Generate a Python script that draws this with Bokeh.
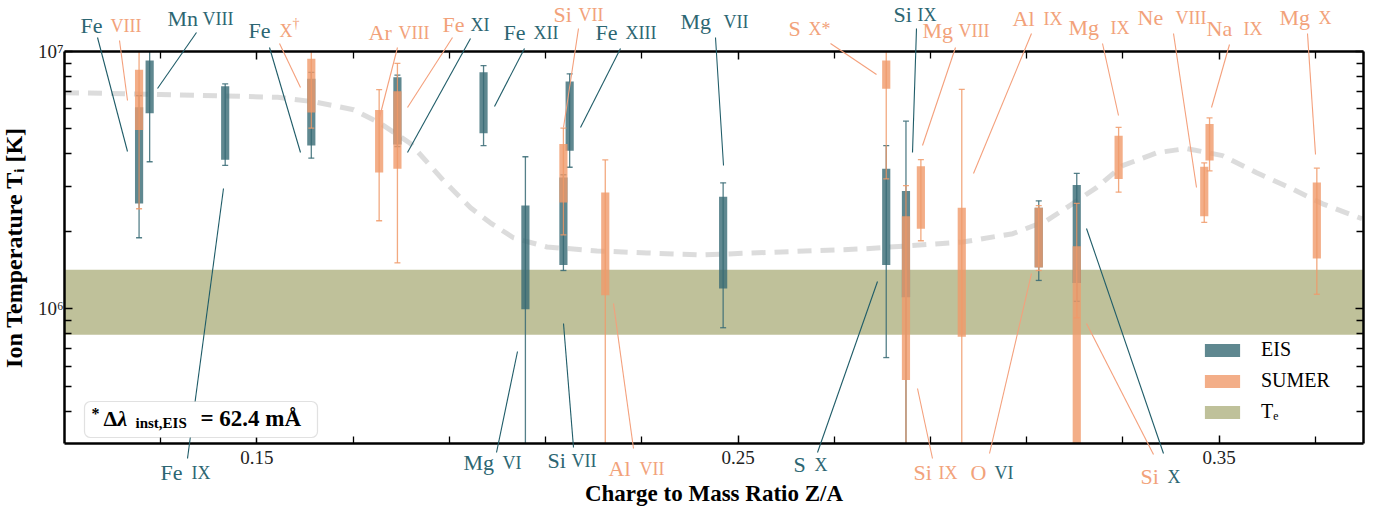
import math
from bokeh.plotting import figure
from bokeh.models import (Range1d, FixedTicker, LinearAxis, LogAxis, CustomJSTickFormatter,
                          Label, Arrow, BoxAnnotation, Legend, LegendItem)
from bokeh.embed import file_html
from bokeh.resources import INLINE

# ---------------- data ----------------
# EIS measurements: charge-to-mass ratio, box range, error-bar range (K)
eis_ion = ["Fe VIII", "Mn VIII", "Fe IX", "Fe X", "Fe XI", "Fe XII", "Mg VI", "Si VII",
           "Fe XIII", "Mg VII", "S X", "Si IX", "O VI", "Si X"]
eis_za = [0.1255, 0.1277, 0.1434, 0.1613, 0.1792, 0.1971, 0.2058, 0.2137,
          0.2150, 0.2469, 0.2808, 0.2849, 0.3125, 0.3204]
eis_box_lo = [2.57e6, 5.75e6, 3.80e6, 4.31e6, 4.35e6, 4.81e6, 9.97e5, 1.48e6,
              4.12e6, 1.20e6, 1.48e6, 1.11e6, 1.45e6, 1.26e6]
eis_box_hi = [6.07e6, 9.23e6, 7.33e6, 7.83e6, 7.94e6, 8.30e6, 2.52e6, 3.24e6,
              7.64e6, 2.73e6, 3.50e6, 2.87e6, 2.47e6, 3.03e6]
eis_err_lo = [1.89e6, 3.73e6, 3.61e6, 3.85e6, 4.27e6, 4.31e6, 2.0e5, 1.41e6,
              3.55e6, 8.45e5, 6.47e5, 2.0e5, 1.29e6, 1.07e6]
eis_err_hi = [6.74e6, 1.5e7, 7.48e6, 8.30e6, 8.09e6, 8.82e6, 3.90e6, 3.32e6,
              8.19e6, 3.09e6, 4.31e6, 5.36e6, 2.63e6, 3.36e6]

# SUMER measurements
sumer_ion = ["Fe VIII", "Fe X", "Ar VIII", "Fe XI", "Si VII", "Al VII", "S X", "Si IX",
             "Mg VIII", "Al IX", "O VI", "Si X", "Mg IX", "Ne VIII", "Na IX", "Mg X"]
sumer_za = [0.1255, 0.1613, 0.1754, 0.1792, 0.2137, 0.2224, 0.2808, 0.2849,
            0.2880, 0.2965, 0.3125, 0.3204, 0.3291, 0.3469, 0.3480, 0.3703]
sumer_box_lo = [4.95e6, 5.80e6, 3.39e6, 3.50e6, 2.59e6, 1.13e6, 7.16e6, 5.30e5,
                2.05e6, 7.80e5, 1.45e6, 2.0e5, 3.20e6, 2.29e6, 3.77e6, 1.57e6]
sumer_box_hi = [8.49e6, 9.37e6, 5.93e6, 7.01e6, 4.37e6, 2.83e6, 9.23e6, 2.29e6,
                3.58e6, 2.47e6, 2.47e6, 1.75e6, 4.71e6, 3.57e6, 5.23e6, 3.10e6]
sumer_err_lo = [2.45e6, 5.04e6, 2.20e6, 1.51e6, 1.94e6, 2.0e5, 3.20e6, 2.0e5,
                1.84e6, 2.0e5, 1.41e6, 9.25e5, 2.84e6, 2.17e6, 3.44e6, 1.14e6]
sumer_err_hi = [1.5e7, 1.5e7, 7.11e6, 9.00e6, 5.04e6, 3.79e6, 1.5e7, 3.01e6,
                3.80e6, 7.13e6, 2.52e6, 2.57e6, 5.07e6, 3.69e6, 5.52e6, 3.52e6]

# electron temperature band
te_low = [7.93e5]
te_high = [1.42e6]

# dashed model curve
curve_za = [0.1101, 0.1300, 0.1543, 0.1618, 0.1701, 0.1757, 0.1819, 0.1888, 0.1944,
            0.1985, 0.2033, 0.2103, 0.2207, 0.2311, 0.2421, 0.2608, 0.2759, 0.2857,
            0.2967, 0.3071, 0.3141, 0.3195, 0.3245, 0.3299, 0.3370, 0.3432, 0.3507,
            0.3578, 0.3646, 0.3715, 0.3797]
curve_T = [6.92e6, 6.81e6, 6.64e6, 6.38e6, 5.94e6, 5.25e6, 4.39e6, 3.15e6, 2.47e6,
           2.16e6, 1.89e6, 1.74e6, 1.68e6, 1.65e6, 1.62e6, 1.67e6, 1.71e6, 1.76e6,
           1.82e6, 1.96e6, 2.20e6, 2.56e6, 2.96e6, 3.60e6, 4.04e6, 4.20e6, 3.94e6,
           3.38e6, 2.96e6, 2.56e6, 2.24e6]

x_ticks = [0.15, 0.25, 0.35]
x_minor = [0.13, 0.17, 0.19, 0.21, 0.23, 0.27, 0.29, 0.31, 0.33, 0.37]
y_ticks = [1e6, 1e7]
y_minor = [4e5, 5e5, 6e5, 7e5, 8e5, 9e5, 2e6, 3e6, 4e6, 5e6, 6e6, 7e6, 8e6, 9e6]

# ---------------- style ----------------
EIS_C = "#376a74"
SUM_C = "#f09a6a"
TE_C = "#bfc19a"
T_TXT = "#2c6672"
O_TXT = "#f2a27a"
T_LINE = "#1f5c68"
O_LINE = "#f4a07c"
FONT = "Liberation Serif"

X0, X1 = 0.11, 0.38          # plot box limits
Y0, Y1 = 3e5, 1e7
W, H = 1380, 506             # canvas size
TXT_DY = 7                   # text baseline correction (px)

# helpers: page pixel position -> data coordinate (plot box spans px 64..1363, 51..443)
def sx(px):
    return X0 + (px - 64) * (X1 - X0) / 1299.0

def sy(py):
    l1, l0 = math.log10(Y1), math.log10(Y0)
    return 10 ** (l1 - (py - 51) * (l1 - l0) / 392.0)

p = figure(width=W, height=H, x_range=Range1d(sx(0), sx(W)), y_range=Range1d(sy(H), sy(0)),
           y_axis_type="log", x_axis_location=None, y_axis_location=None,
           output_backend="svg", toolbar_location=None,
           min_border=0, min_border_left=0, min_border_right=0,
           min_border_top=0, min_border_bottom=0)
p.outline_line_color = None
p.background_fill_color = "white"
p.border_fill_color = "white"
p.xgrid.visible = False
p.ygrid.visible = False

xt = FixedTicker(ticks=x_ticks, minor_ticks=x_minor)
yt = FixedTicker(ticks=y_ticks, minor_ticks=y_minor)
yfmt = CustomJSTickFormatter(code="""
const e = Math.round(Math.log10(tick));
const sup = {"5": "\u2075", "6": "\u2076", "7": "\u2077"};
return "10" + (sup[String(e)] || "");
""")
blank = CustomJSTickFormatter(code="return '';")

def style(ax):
    ax.axis_line_width = 2.5
    ax.axis_line_color = "black"
    ax.major_tick_in = 8
    ax.major_tick_out = 0
    ax.minor_tick_in = 7
    ax.minor_tick_out = 0
    ax.major_tick_line_width = 1.5
    ax.minor_tick_line_width = 1.3
    ax.major_label_text_font = FONT
    ax.major_label_text_font_size = "19px"
    ax.major_label_text_color = "#222222"
    ax.axis_label_text_font = FONT
    ax.axis_label_text_font_style = "bold"
    ax.axis_label_text_font_size = "23px"
    ax.axis_label_text_color = "black"

xb = LinearAxis(ticker=xt, axis_label="Charge to Mass Ratio Z/A", fixed_location=Y0,
                bounds=(X0, X1))
style(xb)
xb.major_label_standoff = 7
xb.axis_label_standoff = 14
xa = LinearAxis(ticker=xt, formatter=blank, fixed_location=Y1, bounds=(X0, X1))
style(xa)
yl = LogAxis(ticker=yt, formatter=yfmt, axis_label="Ion Temperature T\u1d62 [K]",
             fixed_location=X0, bounds=(Y0, Y1))
style(yl)
yl.axis_label_text_font_size = "24px"
yl.major_label_standoff = 1
yl.axis_label_standoff = 8
yr = LogAxis(ticker=yt, formatter=blank, fixed_location=X1, bounds=(Y0, Y1))
style(yr)
p.add_layout(xb, "below")
p.add_layout(xa, "above")
p.add_layout(yl, "left")
p.add_layout(yr, "right")

# ---------------- glyphs (clipped to the plot box) ----------------
def clip(v):
    return min(max(v, Y0), Y1)

te_r = p.quad(left=[X0], right=[X1], bottom=te_low, top=te_high,
              fill_color=TE_C, line_color=None)

p.line(curve_za, curve_T, line_color="#d6d6d6", line_width=5, line_dash="14 9", line_alpha=0.85)

BW = 0.0017

def draw_series(za, blo, bhi, elo, ehi, color):
    r = p.vbar(x=za, width=BW, bottom=[clip(v) for v in blo], top=[clip(v) for v in bhi],
               fill_color=color, fill_alpha=0.8, line_color=None)
    p.segment(x0=za, y0=[clip(v) for v in elo], x1=za, y1=[clip(v) for v in ehi],
              line_color=color, line_alpha=0.85, line_width=1.3)
    cx, cy = [], []
    for xv, lo, hi in zip(za, elo, ehi):
        for v in (lo, hi):
            if Y0 < v < Y1:
                cx.append(xv)
                cy.append(v)
    p.scatter(x=cx, y=cy, marker="dash", size=6, line_color=color, line_alpha=0.85,
              line_width=1.3)
    return r

eis_r = draw_series(eis_za, eis_box_lo, eis_box_hi, eis_err_lo, eis_err_hi, EIS_C)
sum_r = draw_series(sumer_za, sumer_box_lo, sumer_box_hi, sumer_err_lo, sumer_err_hi, SUM_C)

legend = Legend(items=[LegendItem(label="EIS", renderers=[eis_r]),
                       LegendItem(label="SUMER", renderers=[sum_r]),
                       LegendItem(label="T\u2091", renderers=[te_r])],
                location=(1190, H - 433), glyph_width=44, glyph_height=16, label_standoff=17,
                spacing=8, padding=10, background_fill_alpha=0, border_line_alpha=0,
                label_text_font=FONT, label_text_font_size="20px", label_text_color="black")
p.add_layout(legend)

# ---------------- leader lines ----------------
leaders = [
    (T_LINE, 97, 37, 127, 151), (O_LINE, 119, 40, 127, 100),
    (T_LINE, 196, 32, 157, 88),
    (T_LINE, 269, 47, 300, 152), (O_LINE, 279, 43, 300, 87),
    (O_LINE, 397, 47, 379, 117),
    (O_LINE, 452, 37, 407, 107), (T_LINE, 470, 38, 407, 152),
    (T_LINE, 524, 48, 494, 106),
    (O_LINE, 578, 28, 563, 127),
    (T_LINE, 620, 48, 580, 127),
    (T_LINE, 715, 37, 723, 165),
    (O_LINE, 830, 43, 876, 74),
    (T_LINE, 916, 28, 912, 152),
    (O_LINE, 955, 47, 922, 145),
    (O_LINE, 1031, 33, 973, 173),
    (O_LINE, 1102, 43, 1118, 115),
    (O_LINE, 1173, 33, 1196, 187),
    (O_LINE, 1229, 44, 1211, 107),
    (O_LINE, 1307, 33, 1315, 154),
    (T_LINE, 187, 458, 223, 188),
    (T_LINE, 496, 452, 517, 351),
    (T_LINE, 573, 447, 563, 323),
    (O_LINE, 633, 448, 613, 303),
    (T_LINE, 817, 452, 877, 281),
    (O_LINE, 932, 458, 917, 388),
    (O_LINE, 989, 453, 1031, 273),
    (O_LINE, 1153, 454, 1086, 323),
    (T_LINE, 1163, 453, 1086, 228),
]
for c, x0, y0, x1, y1 in leaders:
    p.add_layout(Arrow(end=None, x_start=sx(x0), y_start=sy(y0), x_end=sx(x1), y_end=sy(y1),
                       line_color=c, line_width=1.1))

# ---------------- note box ----------------
p.add_layout(BoxAnnotation(left=sx(84), right=sx(317), top=sy(401), bottom=sy(437),
                           fill_color="white", fill_alpha=1.0, line_color="#9a9a9a",
                           line_width=1.2, border_radius=6))

# ---------------- ion labels ----------------
EL, NU = "22px", "18px"
ion_labels = [
    ("Fe", T_TXT, EL, 80, 32), ("VIII", O_TXT, NU, 110, 32),
    ("Mn", T_TXT, EL, 167, 25), ("VIII", T_TXT, NU, 202, 25),
    ("Fe", T_TXT, EL, 248, 37), ("X", O_TXT, NU, 279, 37), ("\u2020", O_TXT, "14px", 292, 30),
    ("Ar", O_TXT, EL, 368, 39), ("VIII", O_TXT, NU, 398, 39),
    ("Fe", O_TXT, EL, 442, 31), ("XI", T_TXT, NU, 470, 31),
    ("Fe", T_TXT, EL, 503, 39), ("XII", T_TXT, NU, 533, 39),
    ("Si", O_TXT, EL, 553, 21), ("VII", O_TXT, NU, 578, 21),
    ("Fe", T_TXT, EL, 595, 39), ("XIII", T_TXT, NU, 625, 39),
    ("Mg", T_TXT, EL, 680, 28), ("VII", T_TXT, NU, 723, 28),
    ("S", O_TXT, EL, 788, 35), ("X*", O_TXT, NU, 808, 35),
    ("Si", T_TXT, EL, 893, 21), ("IX", T_TXT, NU, 917, 21),
    ("Mg", O_TXT, EL, 922, 37), ("VIII", O_TXT, NU, 958, 37),
    ("Al", O_TXT, EL, 1012, 25), ("IX", O_TXT, NU, 1043, 25),
    ("Mg", O_TXT, EL, 1068, 34), ("IX", O_TXT, NU, 1110, 34),
    ("Ne", O_TXT, EL, 1137, 24), ("VIII", O_TXT, NU, 1175, 24),
    ("Na", O_TXT, EL, 1206, 35), ("IX", O_TXT, NU, 1243, 35),
    ("Mg", O_TXT, EL, 1279, 24), ("X", O_TXT, NU, 1318, 24),
    ("Fe", T_TXT, EL, 160, 479), ("IX", T_TXT, NU, 191, 479),
    ("Mg", T_TXT, EL, 463, 469), ("VI", T_TXT, NU, 502, 469),
    ("Si", T_TXT, EL, 547, 467), ("VII", T_TXT, NU, 571, 467),
    ("Al", O_TXT, EL, 608, 475), ("VII", O_TXT, NU, 639, 475),
    ("S", T_TXT, EL, 793, 471), ("X", T_TXT, NU, 814, 471),
    ("Si", O_TXT, EL, 913, 479), ("IX", O_TXT, NU, 938, 479),
    ("O", O_TXT, EL, 970, 479), ("VI", T_TXT, NU, 994, 479),
    ("Si", O_TXT, EL, 1140, 483), ("X", T_TXT, NU, 1167, 483),
]
for txt, col, size, lx, by in ion_labels:
    p.add_layout(Label(x=sx(lx), y=sy(by - TXT_DY), text=txt, text_color=col, text_font=FONT,
                       text_font_size=size, text_align="left", text_baseline="alphabetic"))

note = [
    ("*", "bold", "16px", 91, 420),
    ("\u0394", "bold", "22px", 103, 425),
    ("\u03bb", "bold italic", "22px", 117, 425),
    ("inst,EIS", "bold", "15px", 135, 429),
    ("= 62.4 m\u00c5", "bold", "23px", 200, 425),
]
for txt, st, size, lx, by in note:
    p.add_layout(Label(x=sx(lx), y=sy(by - TXT_DY), text=txt, text_color="black", text_font=FONT,
                       text_font_style=st, text_font_size=size, text_align="left",
                       text_baseline="alphabetic"))

open("out.html", "w").write(file_html(p, INLINE))
